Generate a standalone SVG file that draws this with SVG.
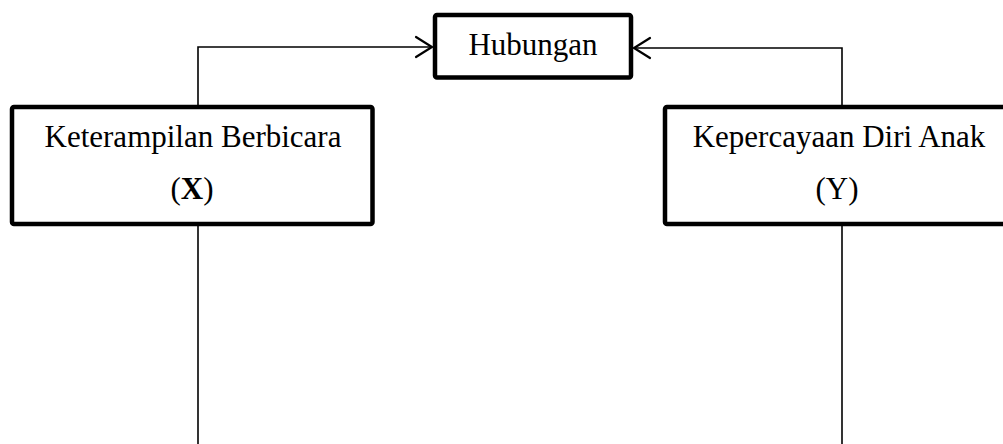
<svg xmlns="http://www.w3.org/2000/svg" width="1003" height="444" viewBox="0 0 1003 444">
<style>
.box{fill:#fff;stroke:#000;stroke-width:4.5;stroke-linejoin:round}
.ln{fill:none;stroke:#000;stroke-width:1.6}
.hd{fill:none;stroke:#000;stroke-width:2.2;stroke-linecap:round;stroke-linejoin:miter}
text{font-family:"Liberation Serif","Times New Roman",serif;font-size:31px;fill:#000;text-anchor:middle}
</style>
<rect width="1003" height="444" fill="#fff"/>
<g id="connectors">
<path class="ln" d="M198,107 L198,47 L432,47"/>
<path class="hd" d="M416,37 L432,47 L416,57"/>
<path class="ln" d="M842,107 L842,48 L634,48"/>
<path class="hd" d="M650,38 L634,48 L650,58"/>
<path class="ln" d="M198,226 L198,444"/>
<path class="ln" d="M842,226 L842,444"/>
</g>
<g id="hubungan">
<rect class="box" x="435" y="15" width="196" height="62.5" rx="2"/>
<text x="533" y="55">Hubungan</text>
</g>
<g id="x">
<rect class="box" x="12" y="107" width="360.5" height="117" rx="2"/>
<text x="193" y="147">Keterampilan Berbicara</text>
<text x="192" y="199">(<tspan font-weight="bold">X</tspan>)</text>
</g>
<g id="y">
<rect class="box" x="665" y="107" width="345" height="117" rx="2"/>
<text x="839" y="147">Kepercayaan Diri Anak</text>
<text x="837" y="199">(Y)</text>
</g>
</svg>
